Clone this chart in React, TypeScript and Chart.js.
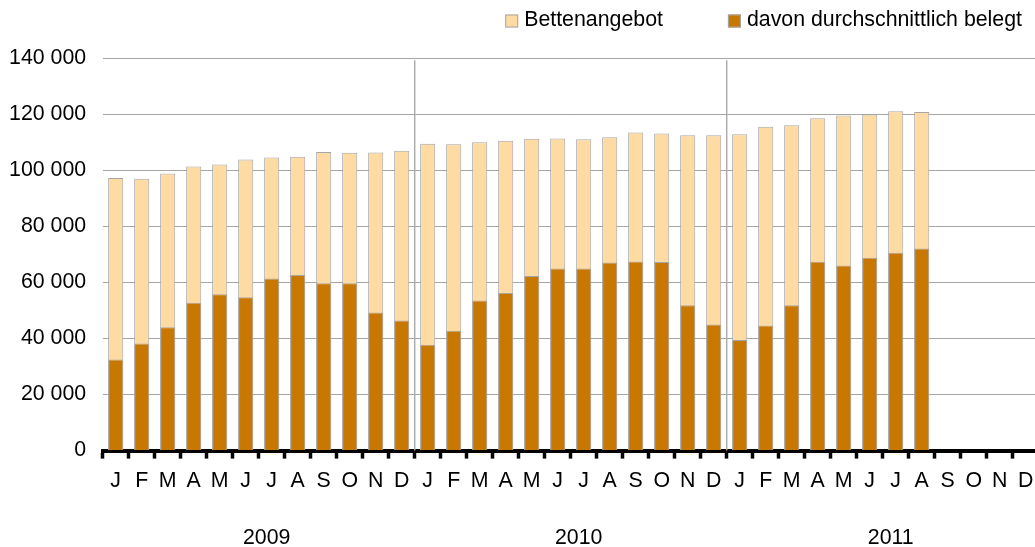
import React, { useEffect, useRef } from "react";
import { Chart, registerables } from "chart.js";

Chart.register(...registerables);

const months: string[] = [
  "J", "F", "M", "A", "M", "J", "J", "A", "S", "O", "N", "D",
  "J", "F", "M", "A", "M", "J", "J", "A", "S", "O", "N", "D",
  "J", "F", "M", "A", "M", "J", "J", "A", "S", "O", "N", "D",
];
const years: string[] = ["2009", "2010", "2011"];

const bettenangebot: (number | null)[] = [
  97300, 97000, 98900, 101400, 102100, 103900, 104600, 104900, 106600, 106300, 106400, 107000,
  109500, 109300, 110000, 110600, 111300, 111400, 111100, 111800, 113500, 113200, 112500, 112500,
  112900, 115600, 116100, 118600, 119600, 119900, 121100, 120800, null, null, null, null,
];
const belegt: (number | null)[] = [
  32500, 38200, 44000, 52800, 55800, 54700, 61400, 62700, 59700, 59700, 49300, 46400,
  37800, 42800, 53600, 56200, 62300, 65000, 65000, 67100, 67500, 67300, 51900, 45000,
  39500, 44600, 51900, 67400, 66100, 68800, 70600, 72100, null, null, null, null,
];
const yTicks: number[] = [0, 20000, 40000, 60000, 80000, 100000, 120000, 140000];
const seriesNames: string[] = ["Bettenangebot", "davon durchschnittlich belegt"];

const LIGHT = "#FEDBA3";
const DARK = "#C87800";
const EDGE = "#A6A6A6";
const FONT = '"Liberation Sans", Arial, sans-serif';
const FS = 21.33;

const fmt = (v: number) => String(v).replace(/\B(?=(\d{3})+(?!\d))/g, " ");

const yearSeparators = {
  id: "yearSeparators",
  beforeDatasetsDraw(chart: any) {
    const { ctx, chartArea } = chart;
    const x = chart.scales.x;
    ctx.save();
    ctx.strokeStyle = "#ADADAD";
    ctx.lineWidth = 1.5;
    [11, 23].forEach((i) => {
      const px = (x.getPixelForValue(i) + x.getPixelForValue(i + 1)) / 2;
      ctx.beginPath();
      ctx.moveTo(px, chartArea.top + 2);
      ctx.lineTo(px, chartArea.bottom);
      ctx.stroke();
    });
    ctx.restore();
  },
};

const customLegend = {
  id: "customLegend",
  afterDraw(chart: any) {
    const { ctx } = chart;
    const ds = chart.data.datasets;
    ctx.save();
    ctx.font = `${FS}px ${FONT}`;
    ctx.textBaseline = "middle";
    const box = 13;
    const gap = 6;
    const itemGap = 65;
    const widths = ds.map((d: any) => ctx.measureText(d.label).width);
    const total = widths.reduce((a: number, w: number) => a + box + gap + w, 0) + itemGap * (ds.length - 1);
    let x = 1022 - total;
    const cy = 21;
    ds.forEach((d: any, i: number) => {
      ctx.fillStyle = d.backgroundColor;
      ctx.fillRect(x, cy - box / 2, box, box);
      ctx.strokeStyle = EDGE;
      ctx.lineWidth = 1;
      ctx.strokeRect(x + 0.5, cy - box / 2 + 0.5, box - 1, box - 1);
      ctx.fillStyle = "#000";
      ctx.fillText(d.label, x + box + gap, cy - 1);
      x += box + gap + widths[i] + itemGap;
    });
    ctx.restore();
  },
};

export default function App() {
  const ref = useRef<HTMLCanvasElement | null>(null);
  useEffect(() => {
    if (!ref.current) return;
    const chart = new Chart(ref.current, {
      type: "bar",
      data: {
        labels: months,
        datasets: [
          {
            label: seriesNames[0],
            data: bettenangebot,
            backgroundColor: LIGHT,
            borderColor: EDGE,
            borderWidth: 1,
            grouped: false,
            order: 2,
            barPercentage: 0.58,
            categoryPercentage: 1,
          } as any,
          {
            label: seriesNames[1],
            data: belegt,
            backgroundColor: DARK,
            borderColor: EDGE,
            borderWidth: 1,
            grouped: false,
            order: 1,
            barPercentage: 0.58,
            categoryPercentage: 1,
          } as any,
        ],
      },
      options: {
        animation: false,
        responsive: true,
        maintainAspectRatio: false,
        layout: { padding: { top: 58.3, right: 6.3, left: 0, bottom: 0 } },
        plugins: { legend: { display: false }, tooltip: { enabled: false } },
        scales: {
          x: {
            type: "category",
            position: "bottom",
            weight: 0,
            offset: true,
            grid: {
              display: true,
              offset: true,
              drawOnChartArea: false,
              drawTicks: true,
              tickLength: 8,
              tickColor: "#000",
              tickWidth: 3.5,
            },
            border: { display: true, color: "#000", width: 4 },
            ticks: {
              color: "#000",
              font: { family: FONT, size: FS },
              padding: 9.5,
              maxRotation: 0,
              autoSkip: false,
            },
            afterFit: (s: any) => {
              s.height = 60;
            },
          },
          x2: {
            type: "category",
            labels: years,
            position: "bottom",
            weight: 1,
            offset: true,
            grid: { display: false, drawTicks: false, drawOnChartArea: false },
            border: { display: false },
            ticks: {
              color: "#000",
              font: { family: FONT, size: FS },
              padding: 15,
              labelOffset: 8,
              maxRotation: 0,
              autoSkip: false,
            },
            afterFit: (s: any) => {
              s.height = 36.4;
            },
          },
          y: {
            type: "linear",
            min: 0,
            max: 140000,
            afterBuildTicks: (s: any) => {
              s.ticks = yTicks.map((v) => ({ value: v }));
            },
            grid: { color: "#A6A6A6", lineWidth: 1, drawTicks: false },
            border: { display: false },
            ticks: {
              color: "#000",
              font: { family: FONT, size: FS },
              padding: 16.5,
              callback: (v: any) => fmt(Number(v)),
            },
            afterFit: (s: any) => {
              s.width = 102.7;
            },
          },
        },
      } as any,
      plugins: [yearSeparators, customLegend],
    });
    return () => chart.destroy();
  }, []);

  return (
    <div style={{ position: "fixed", left: 0, top: 0, width: 1035, height: 547, overflow: "hidden", background: "#fff" }}>
      <div style={{ position: "relative", width: 1045, height: 547 }}>
        <canvas ref={ref} />
      </div>
    </div>
  );
}
